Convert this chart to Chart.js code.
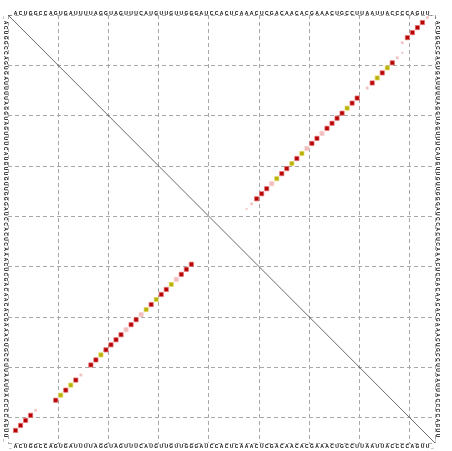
<!DOCTYPE html>
<html>
<head>
<meta charset="utf-8">
<script src="https://cdn.jsdelivr.net/npm/chart.js@4.4.1/dist/chart.umd.min.js"></script>
<style>
  body { margin: 0; background: #fff; }
  #wrap { width: 452px; height: 451px; }
</style>
</head>
<body>
<div id="wrap"><canvas id="dotplot" width="452" height="451"></canvas></div>
<script>
// consensus sequence, '_' = gap
const seq = "_ACUGGCCAGUGAUUUUAGGUAGUUUCAUGUUGUUGGGAUCCACUCAAACUCGACAACACGAAACUGCCUUAAUUACCCCAGUU_";
const N = seq.length;
const gridVals = [0, 10, 20, 30, 40, 50, 60, 70, 80, N];

// upper right: pair probabilities (i < j)
const probI = [1, 2, 3, 4, 5, 6, 8, 9, 10, 11, 12, 13, 14, 15, 17, 18, 19, 20, 21, 22, 23, 24, 25, 26, 27, 28, 29, 30, 31, 32, 33, 34, 35, 36, 37, 38, 39];
const probJ = [84, 83, 82, 81, 80, 79, 79, 78, 77, 76, 75, 74, 73, 72, 70, 69, 68, 67, 66, 65, 64, 63, 62, 61, 60, 59, 58, 57, 56, 55, 54, 53, 52, 51, 50, 49, 48];
const probP = [0.3, 1, 1, 1, 1, 0.3, 0.15, 0.35, 1, 1, 1, 1, 1, 0.35, 1, 1, 1, 1, 1, 1, 1, 1, 1, 1, 1, 1, 1, 1, 1, 1, 1, 1, 1, 1, 1, 0.3, 0.15];
const probType = ['p','r','r','r','r','p','p','p','r','y','r','y','r','p','r','r','y','r','r','r','r','p','r','r','p','y','r','y','r','r','y','p','r','r','r','p','p'];

// lower left: mfe structure
const mfeI = [2, 3, 4, 5, 6, 10, 11, 12, 13, 14, 15, 17, 18, 19, 20, 21, 22, 23, 24, 25, 26, 27, 28, 29, 30, 31, 32, 33, 34, 35, 36, 37];
const mfeJ = [83, 82, 81, 80, 79, 77, 76, 75, 74, 73, 72, 70, 69, 68, 67, 66, 65, 64, 63, 62, 61, 60, 59, 58, 57, 56, 55, 54, 53, 52, 51, 50];
const mfeP = [1, 1, 1, 1, 0.3, 1, 1, 1, 1, 1, 0.35, 1, 1, 1, 1, 1, 1, 1, 1, 1, 1, 1, 1, 1, 1, 1, 1, 1, 1, 1, 1, 1];
const mfeType = ['r','r','r','r','p','r','y','r','y','r','p','r','r','y','r','r','r','r','p','r','r','p','y','r','y','r','r','y','p','r','r','r'];

const fillCol = { r: '#b70000', y: '#b8b000', p: '#f2bcbc' };
const edgeCol = { r: 'rgba(225,110,110,0.75)', y: 'rgba(225,215,110,0.75)', p: 'rgba(246,208,208,0.8)' };

function pairDataset(I, J, P, T, upper) {
  return {
    type: 'scatter',
    data: I.map((i, k) => upper ? { x: J[k] - 0.5, y: i - 0.5 } : { x: i - 0.5, y: J[k] - 0.5 }),
    pointStyle: 'rect',
    pointRadius: P.map(p => 4.2 * Math.sqrt(p) / Math.SQRT2),
    pointBackgroundColor: T.map(t => fillCol[t]),
    pointBorderColor: T.map(t => edgeCol[t]),
    pointBorderWidth: P.map(p => p < 0.5 ? 0.5 : 1),
    showLine: false
  };
}

const seqLabels = {
  id: 'seqLabels',
  afterDraw(chart) {
    const { ctx, chartArea: a, scales: { x, y } } = chart;
    ctx.save();
    ctx.fillStyle = '#000';
    ctx.font = 'bold 5px "Liberation Sans"';
    ctx.textAlign = 'center';
    ctx.textBaseline = 'alphabetic';
    for (let k = 0; k < N; k++) {
      const ch = seq[k];
      const px = x.getPixelForValue(k + 0.5);
      ctx.fillText(ch, px, a.top - 0.5);
      ctx.fillText(ch, px, a.bottom + 5);
      const py = y.getPixelForValue(k + 0.5);
      [a.left - 4, a.right + 1].forEach(bx => {
        ctx.save();
        ctx.translate(bx, py);
        ctx.rotate(Math.PI / 2);
        ctx.fillText(ch, 0, 0);
        ctx.restore();
      });
    }
    ctx.restore();
  }
};

function axis(extra) {
  return Object.assign({
    type: 'linear',
    min: 0,
    max: N,
    ticks: { display: false },
    grid: { color: '#a8a8a8', lineWidth: 1, drawTicks: false, tickLength: 0 },
    border: { display: false, dash: [4, 3] },
    afterBuildTicks: s => { s.ticks = gridVals.map(v => ({ value: v })); }
  }, extra);
}

new Chart(document.getElementById('dotplot'), {
  type: 'scatter',
  data: {
    datasets: [
      pairDataset(probI, probJ, probP, probType, true),
      pairDataset(mfeI, mfeJ, mfeP, mfeType, false),
      {
        type: 'scatter',
        data: [{ x: 0, y: 0 }, { x: N, y: N }],
        showLine: true,
        borderColor: '#444',
        borderWidth: 0.8,
        pointRadius: 0
      }
    ]
  },
  options: {
    responsive: false,
    animation: false,
    events: [],
    layout: { padding: { left: 8, top: 15, right: 17, bottom: 8 } },
    scales: {
      x: axis({ position: 'top' }),
      y: axis({ reverse: true })
    },
    plugins: { legend: { display: false }, tooltip: { enabled: false } }
  },
  plugins: [seqLabels]
});
</script>
</body>
</html>
